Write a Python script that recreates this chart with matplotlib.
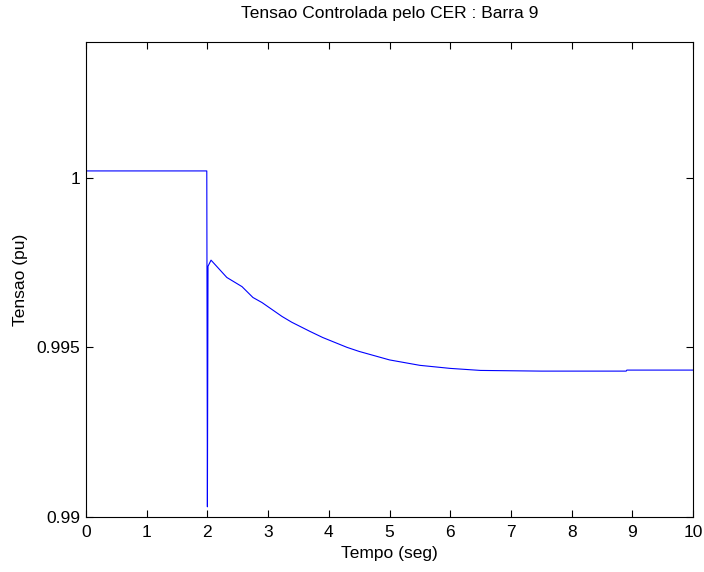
import numpy as np
import matplotlib
matplotlib.use("Agg")
import matplotlib.pyplot as plt

plt.rcParams["font.family"] = ["Liberation Sans", "DejaVu Sans"]

# time (s) and controlled voltage (pu)
tempo = [0.0, 1.99, 2.0, 2.01, 2.06, 2.32, 2.57, 2.75, 2.90, 3.23, 3.39, 3.69,
         3.90, 4.30, 4.50, 5.00, 5.50, 6.00, 6.50, 7.50, 8.90, 8.91, 10.0]
tensao = [1.0002, 1.0002, 0.9903, 0.99739, 0.99757, 0.99706, 0.99679, 0.99647,
          0.99632, 0.99591, 0.99574, 0.99547, 0.99529, 0.99500, 0.99488, 0.99463,
          0.99447, 0.99438, 0.99432, 0.99430, 0.99430, 0.99433, 0.99433]

yticks = [0.99, 0.995, 1.0]
yticklabels = ["0.99", "0.995", "1"]

fig = plt.figure(figsize=(7.04, 5.72), dpi=100)
ax = fig.add_axes([86 / 704, 55 / 572, 607 / 704, 475 / 572])
ax.plot(tempo, tensao, color="#0000ff", linewidth=0.8)

ax.set_xlim(0, 10)
ax.set_ylim(0.99, 1.004)
ax.set_xticks(range(0, 11))
ax.set_yticks(yticks)
ax.set_yticklabels(yticklabels)
ax.tick_params(direction="in", length=5, width=0.8, top=True, right=True,
               labelsize=12.5)
ax.tick_params(axis="x", pad=6)
ax.tick_params(axis="y", pad=4)
for s in ax.spines.values():
    s.set_linewidth(0.8)

ax.set_title("Tensao Controlada pelo CER : Barra 9", fontsize=12.5, pad=17)
ax.set_xlabel("Tempo (seg)", fontsize=12.5, labelpad=4)
ax.set_ylabel("Tensao (pu)", fontsize=12.5, labelpad=6)

fig.savefig("out.png", dpi=100)
